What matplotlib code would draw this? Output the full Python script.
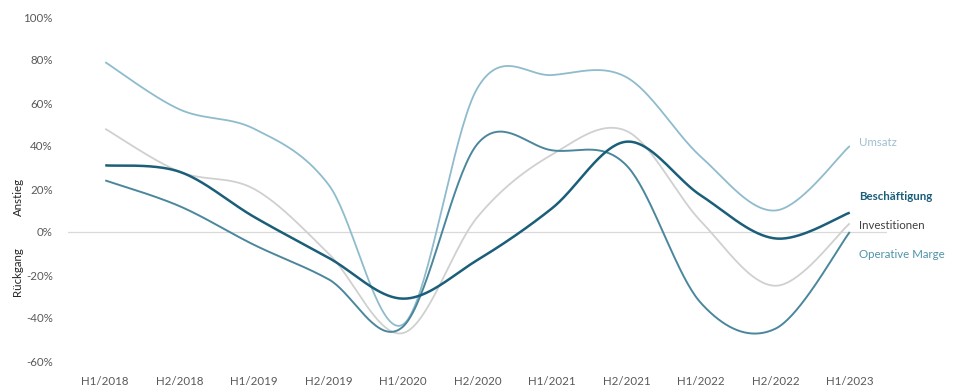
import numpy as np
import matplotlib
matplotlib.use("Agg")
import matplotlib.pyplot as plt

categories = ["H1/2018", "H2/2018", "H1/2019", "H2/2019", "H1/2020", "H2/2020",
              "H1/2021", "H2/2021", "H1/2022", "H2/2022", "H1/2023"]
umsatz = [79, 57, 48, 22, -43, 67, 73, 72, 35, 10, 40]
beschaeftigung = [31, 28, 7, -12, -31, -13, 11, 42, 17, -3, 9]
investitionen = [48, 28, 20, -10, -47, 7, 36, 47, 5, -25, 4]
operative_marge = [24, 12, -6, -22, -44, 41, 38, 31, -33, -45, 0]
series_names = ["Umsatz", "Beschäftigung", "Investitionen", "Operative Marge"]
y_ticks = [-60, -40, -20, 0, 20, 40, 60, 80, 100]

plt.rcParams['font.family'] = ['Lato', 'DejaVu Sans']


def smooth(xs, ys, n=40):
    """Excel-style smoothing (uniform Catmull-Rom through the data points)."""
    xs = np.asarray(xs, float)
    ys = np.asarray(ys, float)
    px = np.concatenate([[xs[0]], xs, [xs[-1]]])
    py = np.concatenate([[ys[0]], ys, [ys[-1]]])
    outx, outy = [], []
    t = np.linspace(0, 1, n)
    for i in range(1, len(px) - 2):
        p0x, p1x, p2x, p3x = px[i - 1], px[i], px[i + 1], px[i + 2]
        p0y, p1y, p2y, p3y = py[i - 1], py[i], py[i + 1], py[i + 2]
        c1x = p1x + (p2x - p0x) / 6
        c2x = p2x - (p3x - p1x) / 6
        c1y = p1y + (p2y - p0y) / 6
        c2y = p2y - (p3y - p1y) / 6
        bx = (1 - t) ** 3 * p1x + 3 * (1 - t) ** 2 * t * c1x + 3 * (1 - t) * t ** 2 * c2x + t ** 3 * p2x
        by = (1 - t) ** 3 * p1y + 3 * (1 - t) ** 2 * t * c1y + 3 * (1 - t) * t ** 2 * c2y + t ** 3 * p2y
        outx.extend(bx)
        outy.extend(by)
    return np.array(outx), np.array(outy)


fig = plt.figure(figsize=(9.6, 3.87), dpi=100)
ax = fig.add_axes([68 / 960, 26 / 387, (887 - 68) / 960, (361 - 17) / 387])

x = np.arange(len(categories))
data = [umsatz, beschaeftigung, investitionen, operative_marge]
colors = ["#8fbccc", "#1b5e79", "#d0d0d0", "#4b879c"]
widths = [1.3, 1.8, 1.3, 1.4]
zorders = [3, 6, 2, 4]

ax.axhline(0, color="#d9d9d9", lw=0.9, zorder=1)

for vals, c, w, z in zip(data, colors, widths, zorders):
    sx, sy = smooth(x, vals)
    ax.plot(sx, sy, color=c, lw=w, zorder=z, solid_capstyle="butt")

label_y = [41.5, 16.5, 3.0, -10.5]
label_colors = ["#9dc0cf", "#1b5e79", "#404040", "#4f93a9"]
label_weights = ["normal", "bold", "normal", "normal"]
for name, ly, lc, lw_ in zip(series_names, label_y, label_colors, label_weights):
    ax.text(10.13, ly, name, color=lc, fontsize=8.3, va="center", ha="left",
            fontweight=lw_, clip_on=False)

ax.set_xlim(-0.5, 10.5)
ax.set_ylim(-60, 100)
ax.set_xticks(x)
ax.set_xticklabels(categories)
ax.set_yticks(y_ticks)
ax.set_yticklabels([f"{v}%" for v in y_ticks])
ax.tick_params(axis="both", length=0, labelsize=8.3, labelcolor="#595959")
ax.tick_params(axis="y", pad=11)
ax.tick_params(axis="x", pad=11)
for s in ax.spines.values():
    s.set_visible(False)

fig.text(18 / 960, 1 - 197 / 387, "Anstieg", rotation=90, ha="center", va="center",
         fontsize=8.3, color="#262626")
fig.text(18 / 960, 1 - 272 / 387, "Rückgang", rotation=90, ha="center", va="center",
         fontsize=8.3, color="#262626")

fig.savefig("out.png", dpi=100, facecolor="white")
